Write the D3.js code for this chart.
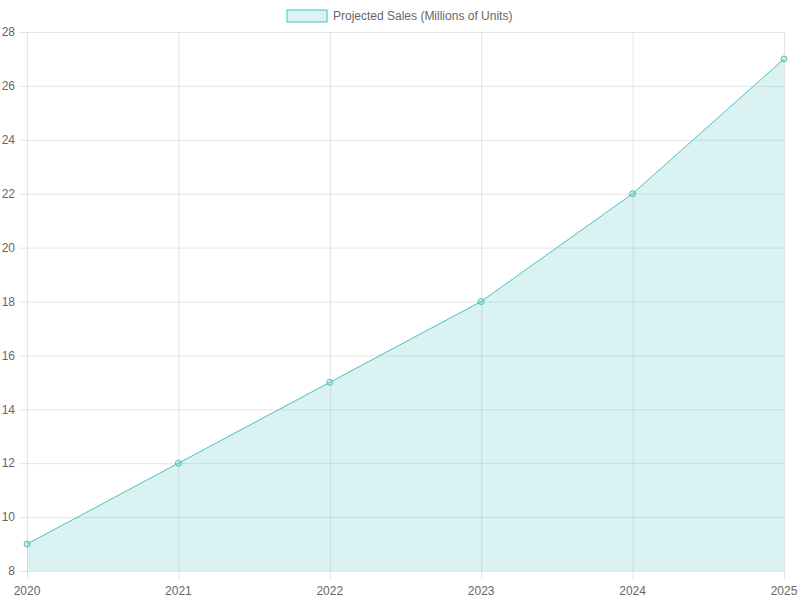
<!DOCTYPE html>
<html>
<head>
<meta charset="utf-8">
<script src="https://cdn.jsdelivr.net/npm/d3@7"></script>
<style>
  body { margin: 0; background: #fff; }
  svg { display: block; font-family: "Liberation Sans", Arial, Helvetica, sans-serif; }
</style>
</head>
<body>
<div id="chart"></div>
<script>
const years = ['2020', '2021', '2022', '2023', '2024', '2025'];
const sales = [9, 12, 15, 18, 22, 27];
const yTicks = [8, 10, 12, 14, 16, 18, 20, 22, 24, 26, 28];
const seriesLabel = 'Projected Sales (Millions of Units)';

const width = 800;
const height = 600;
const padding = { top: 32, right: 16, bottom: 29, left: 27 };
const chartWidth = width - padding.left - padding.right;
const chartHeight = height - padding.top - padding.bottom;

const lineColor = 'rgb(75,192,192)';
const fillColor = 'rgba(75,192,192,0.2)';
const gridColor = 'rgba(0,0,0,0.1)';
const textColor = '#666';

const svg = d3.select('#chart').append('svg')
    .attr('width', width)
    .attr('height', height);

const g = svg.append('g')
    .attr('transform', `translate(${padding.left},${padding.top})`);

const xScale = d3.scalePoint()
    .domain(years)
    .range([0, chartWidth]);

const yScale = d3.scaleLinear()
    .domain([8, 28])
    .range([chartHeight, 0]);

// grid lines (y)
g.append('g')
    .selectAll('line')
    .data(yTicks)
    .enter()
    .append('line')
    .attr('x1', -8)
    .attr('x2', chartWidth)
    .attr('y1', d => yScale(d) + 0.5)
    .attr('y2', d => yScale(d) + 0.5)
    .attr('stroke', gridColor)
    .attr('stroke-width', 1);

// grid lines (x)
g.append('g')
    .selectAll('line')
    .data(years)
    .enter()
    .append('line')
    .attr('x1', d => xScale(d) + 0.5)
    .attr('x2', d => xScale(d) + 0.5)
    .attr('y1', 0)
    .attr('y2', chartHeight + 8)
    .attr('stroke', gridColor)
    .attr('stroke-width', 1);

// y labels
g.append('g')
    .selectAll('text')
    .data(yTicks)
    .enter()
    .append('text')
    .attr('x', -12)
    .attr('y', d => yScale(d))
    .attr('dy', '0.35em')
    .attr('text-anchor', 'end')
    .attr('fill', textColor)
    .style('font-size', '12px')
    .text(d => d);

// x labels
g.append('g')
    .selectAll('text')
    .data(years)
    .enter()
    .append('text')
    .attr('x', d => xScale(d))
    .attr('y', chartHeight + 20)
    .attr('dy', '0.35em')
    .attr('text-anchor', 'middle')
    .attr('fill', textColor)
    .style('font-size', '12px')
    .text(d => d);

const data = years.map((y, i) => ({ year: y, value: sales[i] }));

const area = d3.area()
    .x(d => xScale(d.year))
    .y0(chartHeight)
    .y1(d => yScale(d.value));

const line = d3.line()
    .x(d => xScale(d.year))
    .y(d => yScale(d.value));

g.append('path')
    .datum(data)
    .attr('fill', fillColor)
    .attr('d', area);

g.append('path')
    .datum(data)
    .attr('fill', 'none')
    .attr('stroke', lineColor)
    .attr('stroke-width', 1)
    .attr('d', line);

g.selectAll('circle')
    .data(data)
    .enter()
    .append('circle')
    .attr('cx', d => xScale(d.year))
    .attr('cy', d => yScale(d.value))
    .attr('r', 3)
    .attr('fill', fillColor)
    .attr('stroke', lineColor)
    .attr('stroke-width', 1);

// legend
const legend = svg.append('g')
    .attr('transform', 'translate(287,10)');

legend.append('rect')
    .attr('x', 0)
    .attr('y', 0)
    .attr('width', 40)
    .attr('height', 12)
    .attr('fill', fillColor)
    .attr('stroke', lineColor)
    .attr('stroke-width', 1);

legend.append('text')
    .attr('x', 46)
    .attr('y', 6)
    .attr('dy', '0.35em')
    .attr('fill', textColor)
    .style('font-size', '12px')
    .text(seriesLabel);
</script>
</body>
</html>
